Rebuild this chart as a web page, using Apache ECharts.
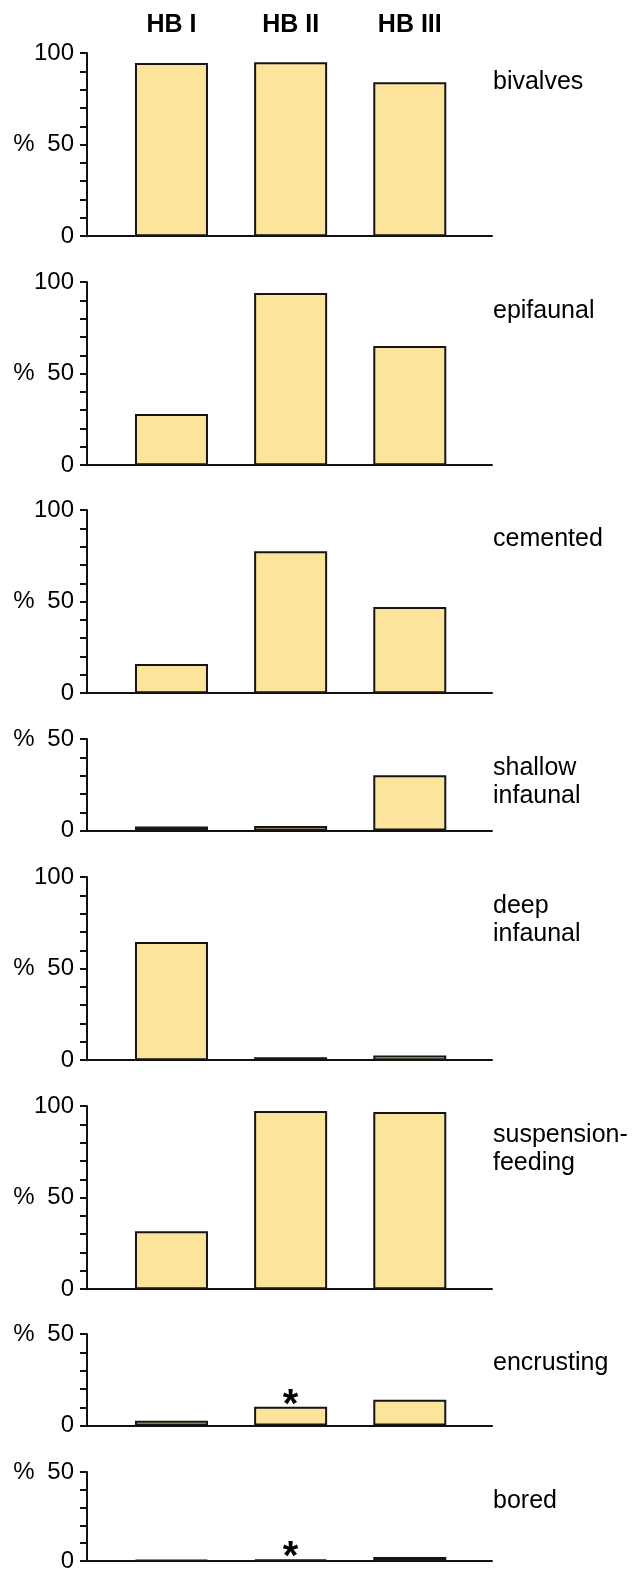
<!DOCTYPE html>
<html>
<head>
<meta charset="utf-8">
<script src="https://cdn.jsdelivr.net/npm/echarts@6/dist/echarts.min.js"></script>
<style>
  html, body { margin: 0; padding: 0; background: #fff; }
  #container { width: 634px; height: 1573px; }
</style>
</head>
<body>
<div id="container"></div>
<script>
var categories = ["HB I", "HB II", "HB III"];

// percentages per habitat group, one array per panel
var bivalves = [94.5, 95, 84];
var epifaunal = [28, 94, 65];
var cemented = [16, 77.5, 47];
var shallowInfaunal = [2.3, 2.5, 30.2];
var deepInfaunal = [64.5, 1.6, 2.5];
var suspensionFeeding = [31.6, 97.3, 96.7];
var encrusting = [2.7, 10.3, 14.1];
var bored = [0.6, 0.8, 2.2];

var panelNames = [
  "bivalves",
  "epifaunal",
  "cemented",
  "shallow\ninfaunal",
  "deep\ninfaunal",
  "suspension-\nfeeding",
  "encrusting",
  "bored",
];
var panelValues = [
  bivalves,
  epifaunal,
  cemented,
  shallowInfaunal,
  deepInfaunal,
  suspensionFeeding,
  encrusting,
  bored,
];
var panelMax = [100, 100, 100, 50, 100, 100, 50, 50];
var asteriskAt = [[], [], [], [], [], [], ["HB II"], ["HB II"]];

// layout
var gridTops = [53, 282, 510, 739, 877, 1106, 1334, 1472];
var pxPerUnit = 1.832;
var gridLeft = 87;
var gridWidth = 405;
var xMin = 0.291;
var xMax = 3.69;

var dom = document.getElementById("container");
var myChart = echarts.init(dom, null, { renderer: "canvas" });

var font = "'Liberation Sans', Arial, sans-serif";
var ink = "#000";

var grids = [];
var xAxes = [];
var yAxes = [];
var series = [];
var titles = [];

panelValues.forEach(function (values, k) {
  var h = panelMax[k] * pxPerUnit;
  grids.push({ left: gridLeft, top: gridTops[k], width: gridWidth, height: h });
  xAxes.push({
    type: "value",
    gridIndex: k,
    min: xMin,
    max: xMax,
    axisLine: { show: true, onZero: false, lineStyle: { color: "#111", width: 2 } },
    axisTick: { show: false },
    axisLabel: { show: false },
    splitLine: { show: false },
  });
  yAxes.push({
    type: "value",
    gridIndex: k,
    min: 0,
    max: panelMax[k],
    interval: 10,
    axisLine: { show: true, lineStyle: { color: "#111", width: 2 } },
    axisTick: { show: true, length: 7, lineStyle: { color: "#111", width: 2 } },
    splitLine: { show: false },
    axisLabel: {
      margin: 13,
      color: ink,
      fontFamily: font,
      fontSize: 24,
      formatter: function (v) {
        if (v === 50) return "{p|%}{n|50}";
        if (v % 50 === 0) return "{n|" + v + "}";
        return "";
      },
      rich: {
        p: { width: 34, align: "left", fontFamily: font, fontSize: 24, color: ink },
        n: { fontFamily: font, fontSize: 24, color: ink },
      },
    },
  });
  series.push({
    type: "bar",
    xAxisIndex: k,
    yAxisIndex: k,
    barWidth: 73,
    silent: true,
    itemStyle: { color: "#FDE49C", borderColor: "#151515", borderWidth: 2 },
    label: {
      show: false,
      position: "top",
      distance: -19,
      formatter: "*",
      color: ink,
      fontFamily: font,
      fontWeight: "bold",
      fontSize: 40,
      lineHeight: 40,
    },
    data: values.map(function (v, i) {
      return {
        value: [i + 1, v],
        label: { show: asteriskAt[k].indexOf(categories[i]) >= 0 },
      };
    }),
  });
  titles.push({
    text: panelNames[k],
    left: 493,
    top: gridTops[k] + 15,
    padding: 0,
    textStyle: {
      fontFamily: font,
      fontSize: 25,
      lineHeight: 28,
      fontWeight: "normal",
      color: ink,
    },
  });
});

// column headings above the first panel
series.push({
  type: "scatter",
  xAxisIndex: 0,
  yAxisIndex: 0,
  symbolSize: 0,
  silent: true,
  itemStyle: { opacity: 1 },
  label: {
    show: true,
    position: "top",
    distance: 15,
    formatter: function (p) {
      return categories[p.dataIndex];
    },
    color: ink,
    opacity: 1,
    fontFamily: font,
    fontWeight: "bold",
    fontSize: 25,
  },
  data: categories.map(function (c, i) {
    return [i + 1, panelMax[0]];
  }),
});

var option = {
  animation: false,
  backgroundColor: "#fff",
  title: titles,
  grid: grids,
  xAxis: xAxes,
  yAxis: yAxes,
  series: series,
};

myChart.setOption(option);
window.addEventListener("resize", myChart.resize);
</script>
</body>
</html>
